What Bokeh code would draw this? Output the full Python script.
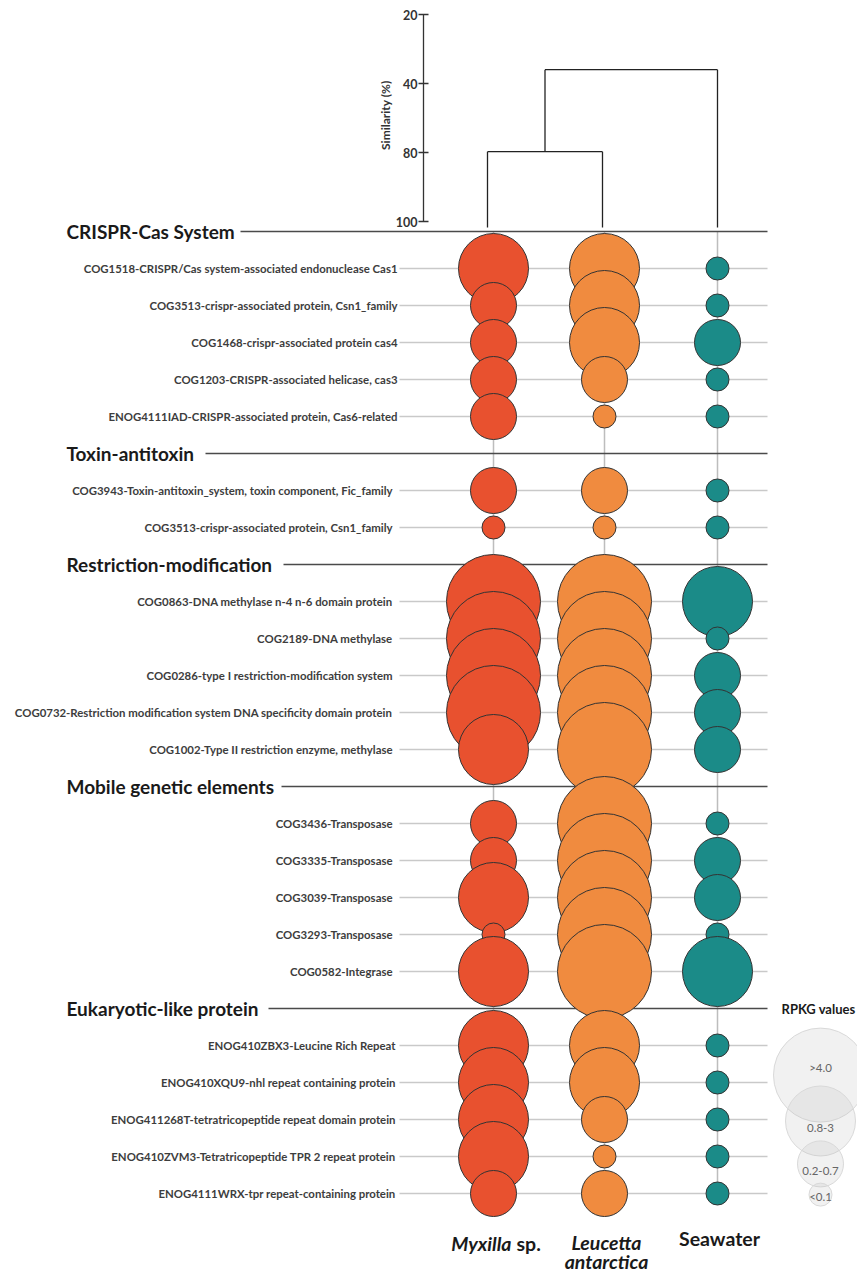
import numpy as np
from bokeh.plotting import figure
from bokeh.models import Range1d
from bokeh.core.properties import value
from bokeh.embed import file_html
from bokeh.resources import INLINE

# ---------------- data ----------------
sections = ["CRISPR-Cas System", "Toxin-antitoxin", "Restriction-modification",
            "Mobile genetic elements", "Eukaryotic-like protein"]

crispr_rows = ["COG1518-CRISPR/Cas system-associated endonuclease Cas1",
               "COG3513-crispr-associated protein, Csn1_family",
               "COG1468-crispr-associated protein cas4",
               "COG1203-CRISPR-associated helicase, cas3",
               "ENOG4111IAD-CRISPR-associated protein, Cas6-related"]
toxin_rows = ["COG3943-Toxin-antitoxin_system, toxin component, Fic_family",
              "COG3513-crispr-associated protein, Csn1_family"]
restriction_rows = ["COG0863-DNA methylase n-4 n-6 domain protein",
                    "COG2189-DNA methylase",
                    "COG0286-type I restriction-modification system",
                    "COG0732-Restriction modification system DNA specificity domain protein",
                    "COG1002-Type II restriction enzyme, methylase"]
mobile_rows = ["COG3436-Transposase", "COG3335-Transposase", "COG3039-Transposase",
               "COG3293-Transposase", "COG0582-Integrase"]
eukaryotic_rows = ["ENOG410ZBX3-Leucine Rich Repeat",
                   "ENOG410XQU9-nhl repeat containing protein",
                   "ENOG411268T-tetratricopeptide repeat domain protein",
                   "ENOG410ZVM3-Tetratricopeptide TPR 2 repeat protein",
                   "ENOG4111WRX-tpr repeat-containing protein"]
section_rows = [crispr_rows, toxin_rows, restriction_rows, mobile_rows, eukaryotic_rows]

samples = ["Myxilla", "Leucetta antarctica", "Seawater"]

# RPKG class per gene (1 = "<0.1", 2 = "0.2-0.7", 3 = "0.8-3", 4 = ">4.0")
rpkg_classes = ["<0.1", "0.2-0.7", "0.8-3", ">4.0"]
myxilla  = [3, 2, 2, 2, 2,  2, 1,  4, 4, 4, 4, 3,  2, 2, 3, 1, 3,  3, 3, 3, 3, 2]
leucetta = [3, 3, 3, 2, 1,  2, 1,  4, 4, 4, 4, 4,  4, 4, 4, 4, 4,  3, 3, 2, 1, 2]
seawater = [1, 1, 2, 1, 1,  1, 1,  3, 1, 2, 2, 2,  1, 2, 2, 1, 3,  1, 1, 1, 1, 1]

# dendrogram (similarity, %)
sim_ticks = [20, 40, 80, 100]
sim_myx_leu = 79.5
sim_all = 36.0

# ---------------- layout / style ----------------
W, H = 857, 1274
SLOT0_PX, SLOT_PX = 231.0, 37.0          # pixel of slot 0, pixel per slot
TICK0_PX, TICK_PX = 14.0, 69.0           # dendrogram axis: pixel of first tick, spacing
col_x = [493, 604, 717]                  # bubble columns
leaf_x = [487, 602, 717]                 # dendrogram leaves
colors = ["#E8512F", "#F08B3F", "#1B8B88"]
size_px = {1: 24, 2: 47, 3: 71, 4: 95}
LINE_X0, LINE_X1 = 399, 767
header_line_x0 = [240, 205, 283, 281, 268]
label_right = [397, 392, 392, 392, 395]
FONT = "Lato"

p = figure(width=W, height=H, x_range=Range1d(0, W),
           y_range=Range1d((H - SLOT0_PX) / SLOT_PX, -SLOT0_PX / SLOT_PX),
           output_backend="svg", toolbar_location=None, min_border=0,
           x_axis_location=None, y_axis_location=None)
p.grid.visible = False
p.outline_line_color = None
p.background_fill_color = "white"
p.border_fill_color = "white"
p.extra_y_ranges = {"sim": Range1d((H - TICK0_PX) / TICK_PX, -TICK0_PX / TICK_PX)}

# slots
row_slots, header_slots, labels, lab_x = [], [], [], []
s = 0
for si, rows in enumerate(section_rows):
    header_slots.append(s)
    s += 1
    for r in rows:
        row_slots.append(s)
        labels.append(r)
        lab_x.append(label_right[si])
        s += 1
row_slots = np.array(row_slots, dtype=float)
last_slot = row_slots[-1]

# vertical grey lines in columns
p.segment(x0=col_x, y0=[0] * 3, x1=col_x, y1=[last_slot] * 3,
          line_color="#bdbdbd", line_width=1.5)
# row lines
p.segment(x0=[LINE_X0] * len(row_slots), y0=row_slots, x1=[LINE_X1] * len(row_slots),
          y1=row_slots, line_color="#c9c9c9", line_width=1.5)
# header lines
p.segment(x0=header_line_x0, y0=header_slots, x1=[LINE_X1] * 5, y1=header_slots,
          line_color="#4a4a4a", line_width=1.4)

# header text
p.text(x=[66] * 5, y=header_slots, text=sections, text_font=value(FONT),
       text_font_style="bold", text_font_size="19px", text_color="#1a1a1a",
       text_align="left", text_baseline="middle")
# row labels
p.text(x=lab_x, y=row_slots, text=labels, text_font=value(FONT),
       text_font_style="bold", text_font_size="11.4px", text_color="#3d3d3d",
       text_align="right", text_baseline="middle")

# bubbles, drawn row by row (top to bottom)
vals = [myxilla, leucetta, seawater]
for i in range(len(row_slots)):
    for c in range(3):
        p.scatter(x=[col_x[c]], y=[row_slots[i]], size=size_px[vals[c][i]] - 1,
                  fill_color=colors[c], line_color="#333333", line_width=1)

# ---------------- dendrogram ----------------
def t(sim):
    return float(np.interp(sim, sim_ticks, np.arange(len(sim_ticks))))

leaf_end = (SLOT0_PX - 4 - TICK0_PX) / TICK_PX
t1, t2 = t(sim_myx_leu), t(sim_all)
mid = (leaf_x[0] + leaf_x[1]) / 2
dx0 = [leaf_x[0], leaf_x[1], leaf_x[0], mid, leaf_x[2], mid]
dy0 = [leaf_end, leaf_end, t1, t1, leaf_end, t2]
dx1 = [leaf_x[0], leaf_x[1], leaf_x[1], mid, leaf_x[2], leaf_x[2]]
dy1 = [t1, t1, t1, t2, t2, t2]
p.segment(x0=dx0, y0=dy0, x1=dx1, y1=dy1, line_color="#222222", line_width=1.3,
          y_range_name="sim")

AX_X = 423
tk = np.arange(len(sim_ticks))
p.segment(x0=[AX_X], y0=[0], x1=[AX_X], y1=[tk[-1]], line_color="#333333",
          line_width=1.3, y_range_name="sim")
p.segment(x0=[AX_X - 5] * len(tk), y0=tk, x1=[AX_X + 5] * len(tk), y1=tk,
          line_color="#333333", line_width=1.3, y_range_name="sim")
p.text(x=[AX_X - 6] * len(tk), y=tk, text=[str(v) for v in sim_ticks],
       text_font=value(FONT), text_font_style="bold", text_font_size="12.5px",
       text_color="#333333", text_align="right", text_baseline="middle",
       y_range_name="sim")
p.text(x=[385], y=[(tk[0] + tk[-1]) / 2 - 0.04], text=["Similarity (%)"],
       text_font=value(FONT), text_font_style="bold", text_font_size="12px",
       text_color="#333333", text_align="center", text_baseline="middle",
       angle=np.pi / 2, y_range_name="sim")

# ---------------- sample labels ----------------
LAB_FS = "19.5px"
lab_slot = last_slot + 1.35
p.text(x=[col_x[0] + 18], y=[lab_slot], text=["Myxilla"], text_font=value(FONT),
       text_font_style="bold italic", text_font_size=LAB_FS, text_color="#1a1a1a",
       text_align="right", text_baseline="middle")
p.text(x=[col_x[0] + 23], y=[lab_slot], text=["sp."], text_font=value(FONT),
       text_font_style="bold", text_font_size=LAB_FS, text_color="#1a1a1a",
       text_align="left", text_baseline="middle")
p.text(x=[col_x[1] + 2] * 2, y=[lab_slot - 0.02, lab_slot + 0.5], text=samples[1].split(" "),
       text_font=value(FONT), text_font_style="bold italic", text_font_size=LAB_FS,
       text_color="#1a1a1a", text_align="center", text_baseline="middle")
p.text(x=[col_x[2] + 2], y=[lab_slot - 0.13], text=[samples[2]], text_font=value(FONT),
       text_font_style="bold", text_font_size=LAB_FS, text_color="#1a1a1a",
       text_align="center", text_baseline="middle")

# ---------------- legend ----------------
LEG_X = 820
leg_slots = [26.03, 25.2, 24.04, 22.8]
leg_text_slots = [26.08, 25.38, 24.24, 22.6]
p.text(x=[818], y=[header_slots[-1]], text=["RPKG values"], text_font=value(FONT),
       text_font_style="bold", text_font_size="13px", text_color="#1a1a1a",
       text_align="center", text_baseline="middle")
for k in [3, 2, 1, 0]:
    p.scatter(x=[LEG_X], y=[leg_slots[k]], size=size_px[k + 1] - 1,
              fill_color="#bfbfbf", fill_alpha=0.22, line_color="#d9d9d9", line_width=1)
p.text(x=[LEG_X] * 4, y=leg_text_slots, text=rpkg_classes, text_font=value(FONT),
       text_font_size="11.5px", text_color="#666666", text_align="center",
       text_baseline="middle")

open("out.html", "w").write(file_html(p, INLINE))
